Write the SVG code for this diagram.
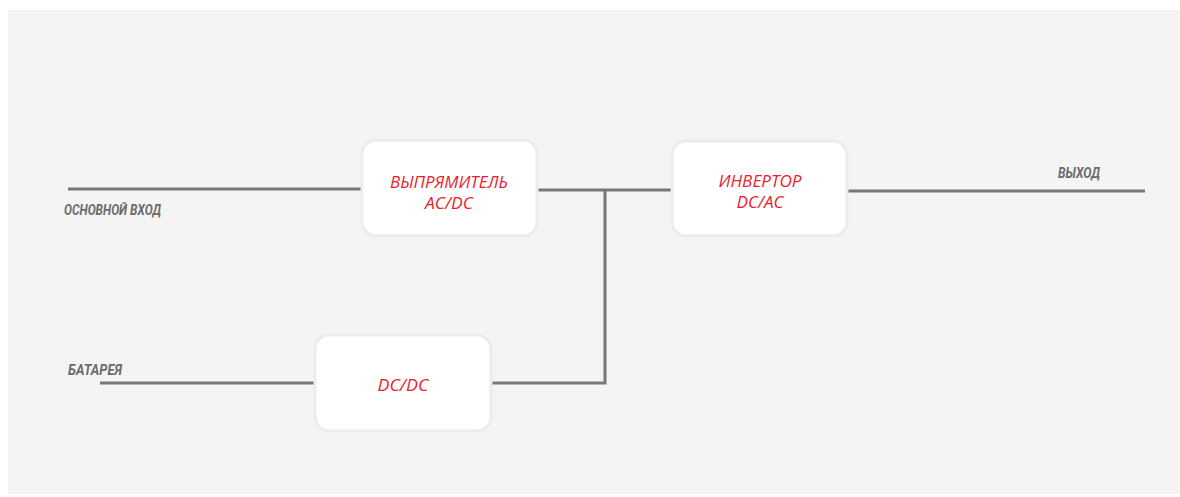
<svg xmlns="http://www.w3.org/2000/svg" width="1180" height="497" viewBox="0 0 1180 497">
<style>
.bg{fill:#f4f4f4}
.box{fill:#ffffff;stroke:#ececec;stroke-width:3}
.wire{fill:none;stroke:#777777;stroke-width:3}
.lbl{font-family:"Roboto","Liberation Sans",sans-serif;font-weight:bold;font-style:italic;font-size:15px;fill:#6b6b6b}
.red{font-family:"Open Sans","Liberation Sans",sans-serif;font-weight:400;font-style:italic;font-size:17px;fill:#ec1c2c;text-anchor:middle}
</style>
<rect width="1180" height="497" fill="#ffffff"/>
<rect class="bg" x="8" y="10" width="1172" height="484"/>
<g id="connectors">
<path class="wire" d="M68 189 H362"/>
<path class="wire" d="M537 190 H672"/>
<path class="wire" d="M605 190 V383 H491"/>
<path class="wire" d="M100 383 H315"/>
<path class="wire" d="M847 191 H1145"/>
</g>
<g id="label-input"><text class="lbl" x="64" y="215" textLength="97" lengthAdjust="spacingAndGlyphs">ОСНОВНОЙ ВХОД</text></g>
<g id="label-battery"><text class="lbl" x="68" y="375" textLength="54" lengthAdjust="spacingAndGlyphs">БАТАРЕЯ</text></g>
<g id="label-output"><text class="lbl" x="1058" y="178" textLength="42" lengthAdjust="spacingAndGlyphs">ВЫХОД</text></g>
<g id="rectifier">
<rect class="box" x="362" y="140" width="175" height="96" rx="14"/>
<text class="red" x="449" y="188" textLength="118" lengthAdjust="spacingAndGlyphs">ВЫПРЯМИТЕЛЬ</text>
<text class="red" x="449" y="209" textLength="48" lengthAdjust="spacingAndGlyphs">AC/DC</text>
</g>
<g id="inverter">
<rect class="box" x="672" y="141" width="175" height="95" rx="14"/>
<text class="red" x="760" y="187" textLength="83" lengthAdjust="spacingAndGlyphs">ИНВЕРТОР</text>
<text class="red" x="760" y="208" textLength="47" lengthAdjust="spacingAndGlyphs">DC/AC</text>
</g>
<g id="dcdc">
<rect class="box" x="315" y="335" width="176" height="96" rx="14"/>
<text class="red" x="403" y="391" textLength="51" lengthAdjust="spacingAndGlyphs">DC/DC</text>
</g>
</svg>
